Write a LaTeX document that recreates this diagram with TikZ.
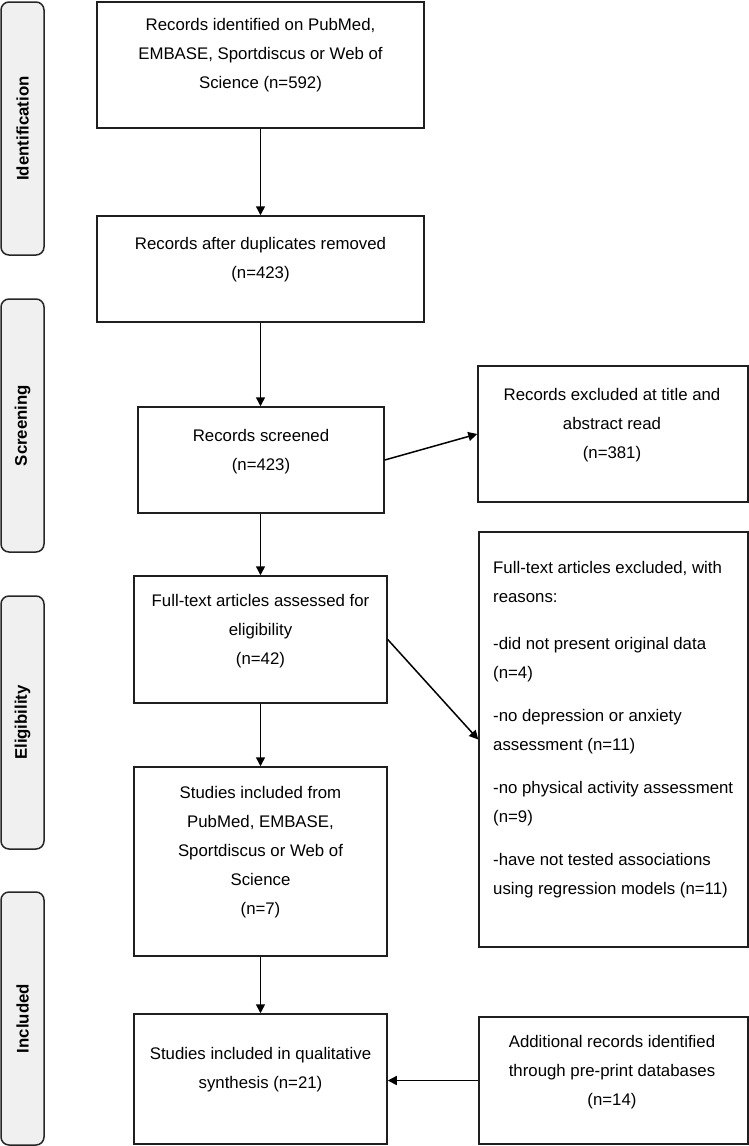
\documentclass[tikz,border=0pt]{standalone}
\usepackage{fontspec}
\setmainfont{Liberation Sans}
\usetikzlibrary{arrows.meta}
\begin{document}
\begin{tikzpicture}[x=1pt,y=-1pt,
  box/.style={draw=black!88, line width=1.5pt, inner sep=0pt, rectangle},
  phase/.style={draw=black!85, fill=gray!12, rounded corners=8pt, line width=1.5pt,
    minimum width=253pt, minimum height=43pt, rotate=90, inner sep=0pt,
    font=\fontsize{16.8}{20}\selectfont\bfseries},
  txt/.style={font=\fontsize{16.8}{29}\selectfont, align=center, inner sep=0pt},
  arr/.style={-{Triangle[length=9pt,width=9pt]}, line width=1.5pt, draw=black}]
\useasboundingbox (0,0) rectangle (749,1146);
% phase labels
\node[phase] (pid) at (22.5,128.5) {Identification};
\node[phase] (psc) at (22.5,425.5) {Screening};
\node[phase] (pel) at (22.5,722.5) {Eligibility};
\node[phase] (pin) at (22.5,1018.5) {Included};
% boxes
\node[box, minimum width=327pt, minimum height=126pt] (b1) at (260.5,65) {};
\node[box, minimum width=327pt, minimum height=106pt] (b2) at (260.5,269) {};
\node[box, minimum width=246pt, minimum height=106pt] (b3) at (261,460) {};
\node[box, minimum width=270pt, minimum height=136pt] (r1) at (613,434) {};
\node[box, minimum width=253pt, minimum height=127pt] (b4) at (260.5,639.5) {};
\node[box, minimum width=269pt, minimum height=415pt] (r2) at (613.5,739.5) {};
\node[box, minimum width=253pt, minimum height=189pt] (b5) at (260.5,861.5) {};
\node[box, minimum width=253pt, minimum height=130pt] (b6) at (260.5,1079) {};
\node[box, minimum width=269pt, minimum height=127pt] (r3) at (613.5,1080.5) {};
% texts
\node[txt] (t1) at (260.5,55.5) {Records identified on PubMed,\\EMBASE, Sportdiscus or Web of\\Science (n=592)};
\node[txt] (t2) at (260.5,260) {Records after duplicates removed\\(n=423)};
\node[txt] (t3) at (261,452) {Records screened\\(n=423)};
\node[txt] (tr1) at (612,425) {Records excluded at title and\\abstract read\\(n=381)};
\node[txt] (t4) at (260.5,631) {Full-text articles assessed for\\eligibility\\(n=42)};
\node[txt, align=left, anchor=west] (tr2) at (493,730) {Full-text articles excluded, with\\reasons:\\[18pt]-did not present original data\\(n=4)\\[14pt]-no depression or anxiety\\assessment (n=11)\\[14pt]-no physical activity assessment\\(n=9)\\[14pt]-have not tested associations\\using regression models (n=11)};
\node[txt] (t5) at (260.5,852) {Studies included from\\PubMed, EMBASE,\\Sportdiscus or Web of\\Science\\(n=7)};
\node[txt] (t6) at (260.5,1069.5) {Studies included in qualitative\\synthesis (n=21)};
\node[txt] (tr3) at (612,1072) {Additional records identified\\through pre-print databases\\(n=14)};
% arrows
\draw[arr] (b1.south) -- (b2.north);
\draw[arr] (b2.south) -- (b3.north -| b2.south);
\draw[arr] (b3.east) -- (r1.west);
\draw[arr] (b3.south -| b4.north) -- (b4.north);
\draw[arr] (b4.east) -- (r2.west);
\draw[arr] (b4.south) -- (b5.north);
\draw[arr] (b5.south) -- (b6.north);
\draw[arr] (r3.west) -- (r3.west -| b6.east);
\end{tikzpicture}
\end{document}
